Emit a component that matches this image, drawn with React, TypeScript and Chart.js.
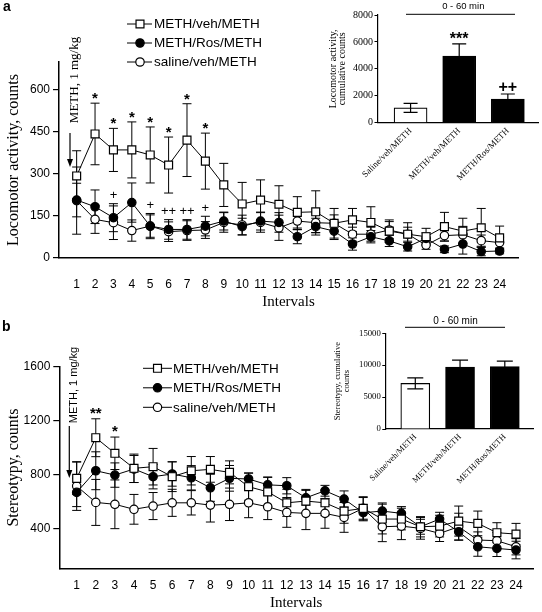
import React, { useEffect, useRef } from "react";
import { Chart, registerables } from "chart.js";

Chart.register(...registerables);

const SANS = '"Liberation Sans", Arial, Helvetica, sans-serif';
const SERIF = '"Liberation Serif", "Times New Roman", Times, serif';

// ---------------- data ----------------
const intervals = [1, 2, 3, 4, 5, 6, 7, 8, 9, 10, 11, 12, 13, 14, 15, 16, 17, 18, 19, 20, 21, 22, 23, 24];
const seriesLabels = ["METH/veh/METH", "METH/Ros/METH", "saline/veh/METH"];

// panel a: locomotor activity
const locoYTicks = [0, 150, 300, 450, 600];
const locoMethVeh = [293, 443, 386, 386, 368, 332, 421, 346, 261, 193, 207, 192, 163, 165, 124, 136, 127, 96, 85, 76, 112, 96, 108, 72];
const locoMethVehErr = [90, 110, 77, 100, 100, 100, 130, 100, 77, 77, 72, 66, 56, 75, 53, 41, 56, 40, 41, 30, 51, 46, 69, 42];
const locoMethRos = [207, 183, 144, 198, 114, 102, 102, 114, 132, 112, 132, 127, 76, 112, 96, 50, 76, 61, 40, 70, 31, 50, 23, 25];
const locoMethRosErr = [60, 60, 50, 70, 45, 35, 35, 35, 32, 30, 32, 35, 25, 30, 30, 22, 22, 20, 15, 20, 12, 36, 15, 10];
const locoSaline = [205, 138, 126, 98, 114, 94, 98, 100, 127, 118, 127, 108, 132, 126, 124, 85, 85, 100, 85, 46, 80, 83, 62, 55];
const locoSalineErr = [120, 50, 60, 38, 40, 35, 35, 30, 35, 35, 35, 45, 30, 35, 30, 25, 25, 30, 25, 15, 20, 30, 20, 20];
const locoStarIntervals = [2, 3, 4, 5, 6, 7, 8];
const locoStarText = ["*", "*", "*", "*", "*", "*", "*"];
const locoPlusIntervals = [3, 5, 6, 7, 8];
const locoPlusText = ["+", "+", "++", "++", "+"];

// panel b: stereotypy
const stereoYTicks = [400, 800, 1200, 1600];
const stereoMethVeh = [775, 1075, 960, 849, 861, 787, 831, 841, 819, 713, 675, 594, 607, 594, 533, 553, 474, 474, 417, 422, 459, 442, 373, 363];
const stereoMethVehErr = [120, 140, 120, 105, 135, 110, 105, 95, 85, 100, 110, 100, 86, 95, 90, 86, 110, 80, 75, 80, 111, 91, 74, 79];
const stereoMethRos = [671, 831, 799, 844, 787, 807, 779, 705, 775, 770, 727, 720, 631, 683, 622, 521, 533, 516, 417, 474, 380, 269, 257, 245];
const stereoMethRosErr = [105, 140, 90, 100, 90, 90, 90, 100, 95, 45, 55, 60, 55, 40, 60, 60, 60, 50, 55, 50, 60, 70, 60, 65];
const stereoSaline = [718, 597, 583, 546, 570, 594, 594, 577, 583, 594, 565, 523, 516, 516, 486, 553, 417, 422, 405, 368, 417, 319, 314, 269];
const stereoSalineErr = [180, 170, 180, 110, 100, 100, 90, 125, 120, 110, 95, 110, 120, 110, 110, 80, 110, 100, 80, 60, 100, 60, 60, 60];
const stereoStarIntervals = [2, 3];
const stereoStarText = ["**", "*"];

// insets: cumulative 0-60 min
const cumGroups = ["Saline/veh/METH", "METH/veh/METH", "METH/Ros/METH"];
const locoCumTicks = [0, 2000, 4000, 6000, 8000];
const locoCum = [1100, 4950, 1750];
const locoCumErr = [330, 900, 380];
const locoCumMarks = ["", "***", "++"];
const stereoCumTicks = [0, 5000, 10000, 15000];
const stereoCum = [7150, 9700, 9800];
const stereoCumErr = [850, 1100, 850];
const stereoCumMarks = ["", "", ""];

// ---------------- helpers ----------------
function valueOf(raw: any): number {
  return typeof raw === "object" && raw !== null ? raw.y : raw;
}

function errorBarPlugin(id: string, phase: "before" | "after", capHalf: number, lineWidth: number) {
  const draw = (chart: any) => {
    const ctx = chart.ctx;
    const yS = chart.scales.y;
    ctx.save();
    ctx.strokeStyle = "#000";
    ctx.lineWidth = lineWidth;
    chart.data.datasets.forEach((ds: any, d: number) => {
      if (!ds.errors) return;
      const meta = chart.getDatasetMeta(d);
      meta.data.forEach((el: any, i: number) => {
        const v = valueOf(ds.data[i]);
        const e = ds.errors[i];
        const x = el.x;
        const top = yS.getPixelForValue(v + e);
        const bot = Math.min(yS.getPixelForValue(v - e), chart.chartArea.bottom);
        ctx.beginPath();
        ctx.moveTo(x, top);
        ctx.lineTo(x, bot);
        ctx.moveTo(x - capHalf, top);
        ctx.lineTo(x + capHalf, top);
        if (bot < chart.chartArea.bottom - 0.5) {
          ctx.moveTo(x - capHalf, bot);
          ctx.lineTo(x + capHalf, bot);
        }
        ctx.stroke();
      });
    });
    ctx.restore();
  };
  return {
    id,
    beforeDatasetsDraw(chart: any) {
      if (phase === "before") draw(chart);
    },
    afterDatasetsDraw(chart: any) {
      if (phase === "after") draw(chart);
    },
  };
}

type Mark = { ds: number; index: number; text: string };

function marksPlugin(id: string, marks: Mark[], font: string, gap: number) {
  return {
    id,
    afterDatasetsDraw(chart: any) {
      const ctx = chart.ctx;
      const yS = chart.scales.y;
      ctx.save();
      ctx.font = font;
      ctx.fillStyle = "#000";
      ctx.textAlign = "center";
      ctx.textBaseline = "alphabetic";
      marks.forEach((m) => {
        if (!m.text) return;
        const ds = chart.data.datasets[m.ds];
        const el = chart.getDatasetMeta(m.ds).data[m.index];
        const v = valueOf(ds.data[m.index]);
        const top = yS.getPixelForValue(v + ds.errors[m.index]);
        const met = ctx.measureText(m.text);
        const yc = top - gap;
        ctx.fillText(m.text, el.x, yc + (met.actualBoundingBoxAscent - met.actualBoundingBoxDescent) / 2);
      });
      ctx.restore();
    },
  };
}

function legendPlugin(o: { x0: number; y0: number; gap: number; lineLen: number; markerAt: number; textX: number; font: string }) {
  return {
    id: "lineLegend",
    afterDraw(chart: any) {
      const ctx = chart.ctx;
      ctx.save();
      chart.data.datasets.forEach((ds: any, i: number) => {
        const y = o.y0 + i * o.gap;
        ctx.strokeStyle = "#000";
        ctx.lineWidth = 1;
        ctx.beginPath();
        ctx.moveTo(o.x0, y);
        ctx.lineTo(o.x0 + o.lineLen, y);
        ctx.stroke();
        const mx = o.x0 + o.markerAt;
        ctx.fillStyle = ds.pointBackgroundColor;
        ctx.lineWidth = ds.pointBorderWidth;
        ctx.beginPath();
        if (ds.pointStyle === "rect") {
          const s = Math.SQRT1_2 * ds.pointRadius;
          ctx.rect(mx - s, y - s, 2 * s, 2 * s);
        } else {
          ctx.arc(mx, y, ds.pointRadius, 0, Math.PI * 2);
        }
        ctx.fill();
        ctx.stroke();
        ctx.fillStyle = "#000";
        ctx.font = o.font;
        ctx.textAlign = "left";
        ctx.textBaseline = "middle";
        ctx.fillText(ds.label, o.textX, y + 0.5);
      });
      ctx.restore();
    },
  };
}

function arrowPlugin(o: { x: number; y1: number; y2: number; text: string; tx: number; ty: number; font: string; label: string; lx: number; ly: number }) {
  return {
    id: "annot",
    afterDraw(chart: any) {
      const ctx = chart.ctx;
      ctx.save();
      ctx.strokeStyle = "#000";
      ctx.fillStyle = "#000";
      ctx.lineWidth = 1.2;
      ctx.beginPath();
      ctx.moveTo(o.x, o.y1);
      ctx.lineTo(o.x, o.y2 - 5);
      ctx.stroke();
      ctx.beginPath();
      ctx.moveTo(o.x, o.y2);
      ctx.lineTo(o.x - 3, o.y2 - 8);
      ctx.lineTo(o.x + 3, o.y2 - 8);
      ctx.closePath();
      ctx.fill();
      ctx.save();
      ctx.translate(o.tx, o.ty);
      ctx.rotate(-Math.PI / 2);
      ctx.font = o.font;
      ctx.textAlign = "center";
      ctx.textBaseline = "middle";
      ctx.fillText(o.text, 0, 0);
      ctx.restore();
      ctx.font = "bold 14px " + SANS;
      ctx.textAlign = "left";
      ctx.textBaseline = "alphabetic";
      ctx.fillText(o.label, o.lx, o.ly);
      ctx.restore();
    },
  };
}

function headerPlugin(o: { text: string; cx: number; ty: number; x1: number; x2: number; ly: number; font: string }) {
  return {
    id: "header",
    afterDraw(chart: any) {
      const ctx = chart.ctx;
      ctx.save();
      ctx.fillStyle = "#000";
      ctx.strokeStyle = "#000";
      ctx.font = o.font;
      ctx.textAlign = "center";
      ctx.textBaseline = "middle";
      ctx.fillText(o.text, o.cx, o.ty);
      ctx.lineWidth = 1;
      ctx.beginPath();
      ctx.moveTo(o.x1, o.ly);
      ctx.lineTo(o.x2, o.ly);
      ctx.stroke();
      ctx.restore();
    },
  };
}

type Series = { label: string; values: number[]; errors: number[]; kind: "square" | "filled" | "open" };

function lineConfig(o: {
  series: Series[];
  xMin: number;
  xMax: number;
  yMin: number;
  yMax: number;
  yTicks: number[];
  padding: any;
  yWidth: number;
  xHeight: number;
  yTitle: string;
  xTickPad: number;
  xTitlePad: number;
  extra: any[];
}) {
  return {
    type: "line",
    data: {
      datasets: o.series.map((s) => ({
        label: s.label,
        data: intervals.map((x, i) => ({ x, y: s.values[i] })),
        errors: s.errors,
        borderColor: "#000",
        borderWidth: 1,
        pointStyle: s.kind === "square" ? "rect" : "circle",
        pointRadius: s.kind === "square" ? 5.6 : 4.2,
        pointBackgroundColor: s.kind === "filled" ? "#000" : "#fff",
        pointBorderColor: "#000",
        pointBorderWidth: 1.2,
        fill: false,
        tension: 0,
        clip: false,
      })),
    },
    options: {
      responsive: false,
      animation: false,
      layout: { padding: o.padding },
      plugins: { legend: { display: false }, tooltip: { enabled: false } },
      scales: {
        x: {
          type: "linear",
          min: o.xMin,
          max: o.xMax,
          afterBuildTicks: (s: any) => {
            s.ticks = intervals.map((v) => ({ value: v }));
          },
          afterFit: (s: any) => {
            s.height = o.xHeight;
          },
          ticks: {
            autoSkip: false,
            maxRotation: 0,
            padding: o.xTickPad,
            color: "#000",
            font: { family: SANS, size: 12 },
            callback: (v: any) => String(v),
          },
          grid: { display: false, drawTicks: false },
          border: { display: true, color: "#000", width: 1.5 },
          title: {
            display: true,
            text: "Intervals",
            color: "#000",
            font: { family: SERIF, size: 15 },
            padding: { top: 0, bottom: o.xTitlePad },
          },
        },
        y: {
          type: "linear",
          min: o.yMin,
          max: o.yMax,
          afterBuildTicks: (s: any) => {
            s.ticks = o.yTicks.map((v) => ({ value: v }));
          },
          afterFit: (s: any) => {
            s.width = o.yWidth;
          },
          ticks: { padding: 3, color: "#000", font: { family: SANS, size: 12 }, callback: (v: any) => String(v) },
          grid: { display: true, drawOnChartArea: false, drawTicks: true, tickLength: 6, color: "#000", lineWidth: 1.2 },
          border: { display: true, color: "#000", width: 1.5 },
          title: {
            display: true,
            text: o.yTitle,
            color: "#000",
            font: { family: SERIF, size: 16 },
            padding: { top: 4.4, bottom: 0 },
          },
        },
      },
    },
    plugins: [errorBarPlugin("errBars", "before", 4.5, 1), ...o.extra],
  };
}

function barConfig(o: {
  values: number[];
  errors: number[];
  marks: string[];
  yTicks: number[];
  yMax: number;
  xMin: number;
  xMax: number;
  barThickness: number;
  padding: any;
  yWidth: number;
  xHeight: number;
  yTitle: string[];
  yTitleFont: number;
  yTitleLH: number;
  yTitlePad: number;
  tickFont: number;
  labelFont: number;
  capHalf: number;
  header: any;
}) {
  const marks: Mark[] = o.marks.map((t, i) => ({ ds: 0, index: i, text: t }));
  return {
    type: "bar",
    data: {
      datasets: [
        {
          data: cumGroups.map((_, i) => ({ x: i + 1, y: o.values[i] })),
          errors: o.errors,
          backgroundColor: cumGroups.map((g) => (g.startsWith("Saline") ? "#fff" : "#000")),
          borderColor: "#000",
          borderWidth: 1.2,
          barThickness: o.barThickness,
        },
      ],
    },
    options: {
      responsive: false,
      animation: false,
      layout: { padding: o.padding },
      plugins: { legend: { display: false }, tooltip: { enabled: false } },
      scales: {
        x: {
          type: "linear",
          offset: false,
          min: o.xMin,
          max: o.xMax,
          afterBuildTicks: (s: any) => {
            s.ticks = cumGroups.map((_, i) => ({ value: i + 1 }));
          },
          afterFit: (s: any) => {
            s.height = o.xHeight;
          },
          ticks: {
            autoSkip: false,
            minRotation: 45,
            maxRotation: 45,
            padding: 3,
            color: "#000",
            font: { family: SERIF, size: o.labelFont },
            callback: (_v: any, i: number) => cumGroups[i],
          },
          grid: { display: false, drawTicks: false, offset: false },
          border: { display: true, color: "#000", width: 1.2 },
        },
        y: {
          type: "linear",
          min: 0,
          max: o.yMax,
          afterBuildTicks: (s: any) => {
            s.ticks = o.yTicks.map((v) => ({ value: v }));
          },
          afterFit: (s: any) => {
            s.width = o.yWidth;
          },
          ticks: { padding: 1.5, color: "#000", font: { family: SERIF, size: o.tickFont }, callback: (v: any) => String(v) },
          grid: { display: true, drawOnChartArea: false, drawTicks: true, tickLength: 3, color: "#000", lineWidth: 1 },
          border: { display: true, color: "#000", width: 1.2 },
          title: {
            display: true,
            text: o.yTitle,
            color: "#000",
            font: { family: SERIF, size: o.yTitleFont, lineHeight: o.yTitleLH },
            padding: { top: o.yTitlePad, bottom: 0 },
          },
        },
      },
    },
    plugins: [
      errorBarPlugin("errBars", "after", o.capHalf, 1.2),
      marksPlugin("cumMarks", marks, "bold 16px " + SANS, 8),
      headerPlugin(o.header),
    ],
  };
}

// ---------------- chart builders ----------------
function buildLocoMain() {
  const stars: Mark[] = locoStarIntervals.map((iv, k) => ({ ds: 0, index: intervals.indexOf(iv), text: locoStarText[k] }));
  const plus: Mark[] = locoPlusIntervals.map((iv, k) => ({ ds: 1, index: intervals.indexOf(iv), text: locoPlusText[k] }));
  return lineConfig({
    series: [
      { label: seriesLabels[0], values: locoMethVeh, errors: locoMethVehErr, kind: "square" },
      { label: seriesLabels[1], values: locoMethRos, errors: locoMethRosErr, kind: "filled" },
      { label: seriesLabels[2], values: locoSaline, errors: locoSalineErr, kind: "open" },
    ],
    xMin: 0.04,
    xMax: 25,
    yMin: 0,
    yMax: 700,
    yTicks: locoYTicks,
    padding: { left: 0, top: 62, right: 24, bottom: 0 },
    yWidth: 59,
    xHeight: 54,
    yTitle: "Locomotor activity, counts",
    xTickPad: 19,
    xTitlePad: 1,
    extra: [
      marksPlugin("stars", stars, "bold 15px " + SANS, 7),
      marksPlugin("plus", plus, "13px " + SANS, 9),
      legendPlugin({ x0: 127, y0: 24, gap: 19, lineLen: 25, markerAt: 13, textX: 154, font: "13.5px " + SANS }),
      arrowPlugin({ x: 70, y1: 133, y2: 167, text: "METH, 1 mg/kg", tx: 75, ty: 80, font: "13px " + SERIF, label: "a", lx: 3, ly: 11 }),
    ],
  });
}

function buildStereoMain() {
  const stars: Mark[] = stereoStarIntervals.map((iv, k) => ({ ds: 0, index: intervals.indexOf(iv), text: stereoStarText[k] }));
  return lineConfig({
    series: [
      { label: seriesLabels[0], values: stereoMethVeh, errors: stereoMethVehErr, kind: "square" },
      { label: seriesLabels[1], values: stereoMethRos, errors: stereoMethRosErr, kind: "filled" },
      { label: seriesLabels[2], values: stereoSaline, errors: stereoSalineErr, kind: "open" },
    ],
    xMin: 0.09,
    xMax: 24.89,
    yMin: 110,
    yMax: 1600,
    yTicks: stereoYTicks,
    padding: { left: 0, top: 54.7, right: 9, bottom: 0 },
    yWidth: 59.3,
    xHeight: 43.7,
    yTitle: "Stereotypy, counts",
    xTickPad: 10,
    xTitlePad: 0,
    extra: [
      marksPlugin("stars", stars, "bold 15px " + SANS, 8),
      legendPlugin({ x0: 143, y0: 56.3, gap: 19.5, lineLen: 29, markerAt: 14.5, textX: 173, font: "13.5px " + SANS }),
      arrowPlugin({ x: 69.3, y1: 114, y2: 166, text: "METH, 1 mg/kg", tx: 74, ty: 73, font: "11px " + SANS, label: "b", lx: 2, ly: 19 }),
    ],
  });
}

function buildLocoInset() {
  return barConfig({
    values: locoCum,
    errors: locoCumErr,
    marks: locoCumMarks,
    yTicks: locoCumTicks,
    yMax: 8000,
    xMin: 0.32,
    xMax: 3.62,
    barThickness: 33,
    padding: { left: 0, top: 15, right: 4, bottom: 0 },
    yWidth: 49.5,
    xHeight: 77.3,
    yTitle: ["Locomotor activity,", "cumulative counts"],
    yTitleFont: 10,
    yTitleLH: 0.85,
    yTitlePad: 1.3,
    tickFont: 10,
    labelFont: 9,
    capHalf: 7,
    header: { text: "0 - 60 min", cx: 135.3, ty: 6.7, x1: 78, x2: 187, ly: 14.3, font: "9.5px " + SANS },
  });
}

function buildStereoInset() {
  return barConfig({
    values: stereoCum,
    errors: stereoCumErr,
    marks: stereoCumMarks,
    yTicks: stereoCumTicks,
    yMax: 15000,
    xMin: 0.33,
    xMax: 3.63,
    barThickness: 29,
    padding: { left: 0, top: 21.3, right: 9, bottom: 0 },
    yWidth: 57.3,
    xHeight: 63,
    yTitle: ["Stereotypy, cumulative", "counts"],
    yTitleFont: 8.5,
    yTitleLH: 1.05,
    yTitlePad: 5.2,
    tickFont: 8.7,
    labelFont: 8.5,
    capHalf: 8,
    header: { text: "0 - 60 min", cx: 127.5, ty: 9, x1: 77, x2: 177, ly: 15.3, font: "10px " + SANS },
  });
}

function ChartCanvas(props: { left: number; top: number; width: number; height: number; build: () => any }) {
  const ref = useRef<HTMLCanvasElement>(null);
  useEffect(() => {
    const chart = new Chart(ref.current as HTMLCanvasElement, props.build());
    return () => chart.destroy();
  }, []);
  return (
    <canvas
      ref={ref}
      width={props.width}
      height={props.height}
      style={{ position: "absolute", left: props.left, top: props.top, width: props.width, height: props.height }}
    />
  );
}

export default function App() {
  return (
    <div style={{ position: "absolute", left: 0, top: 0, width: 542, height: 612, background: "#fff", overflow: "hidden" }}>
      <ChartCanvas left={0} top={0} width={542} height={312} build={buildLocoMain} />
      <ChartCanvas left={0} top={312} width={542} height={300} build={buildStereoMain} />
      <ChartCanvas left={328} top={0} width={214} height={200} build={buildLocoInset} />
      <ChartCanvas left={328} top={312} width={214} height={180} build={buildStereoInset} />
    </div>
  );
}
